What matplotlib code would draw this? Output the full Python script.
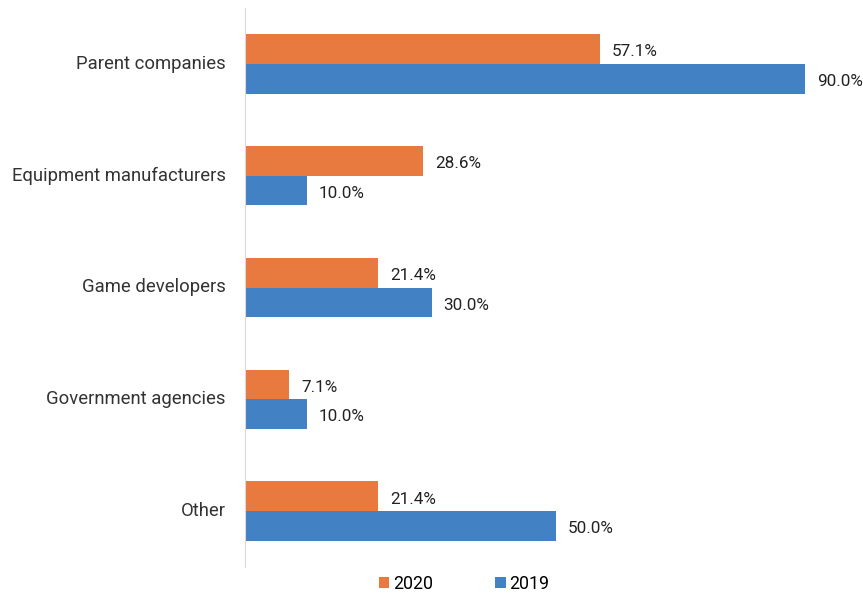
import matplotlib.pyplot as plt
import matplotlib.transforms as mtransforms
import numpy as np

plt.rcParams['font.family'] = ['Roboto', 'DejaVu Sans']

categories = ["Parent companies", "Equipment manufacturers", "Game developers",
              "Government agencies", "Other"]
vals_2020 = [57.1, 28.6, 21.4, 7.1, 21.4]
vals_2019 = [90.0, 10.0, 30.0, 10.0, 50.0]

c2020 = "#E8793F"
c2019 = "#4281C3"

W, H = 863, 596
fig = plt.figure(figsize=(W / 100, H / 100), dpi=100)
ax = fig.add_axes([245 / W, 1 - 567 / H, (861 - 245) / W, (567 - 8) / H])

y = np.arange(len(categories))
h = 0.265
b1 = ax.barh(y - h / 2, vals_2020, height=h, color=c2020, label="2020")
b2 = ax.barh(y + h / 2, vals_2019, height=h, color=c2019, label="2019")

# value labels to the right of each bar
for bars, vals in ((b1, vals_2020), (b2, vals_2019)):
    for rect, v in zip(bars, vals):
        ax.annotate(f"{v:.1f}%", (v, rect.get_y() + rect.get_height() / 2),
                    xytext=(8.5, -2), textcoords="offset points",
                    va="center", ha="left", fontsize=12.3, color="#222222")

ax.set_ylim(len(categories) - 0.5, -0.5)
ax.set_xlim(0, 99)
ax.set_yticks(y)
ax.set_yticklabels(categories, fontsize=13.3, color="#333333", va="center_baseline")
ax.tick_params(axis="y", length=0, pad=14)
shift = mtransforms.ScaledTranslation(0, 2 / 100, fig.dpi_scale_trans)
for lbl in ax.get_yticklabels():
    lbl.set_transform(lbl.get_transform() + shift)
ax.set_xticks([])
for s in ("top", "right", "bottom"):
    ax.spines[s].set_visible(False)
ax.spines["left"].set_color("#D9D9D9")

fig.legend([b1, b2], ["2020", "2019"], loc="center", bbox_to_anchor=(464 / W, 1 - 584 / H),
           ncol=2, frameon=False, fontsize=12.8, handlelength=0.6, handleheight=0.6,
           handletextpad=0.2, columnspacing=3.5)

fig.savefig("out.png", dpi=100)
